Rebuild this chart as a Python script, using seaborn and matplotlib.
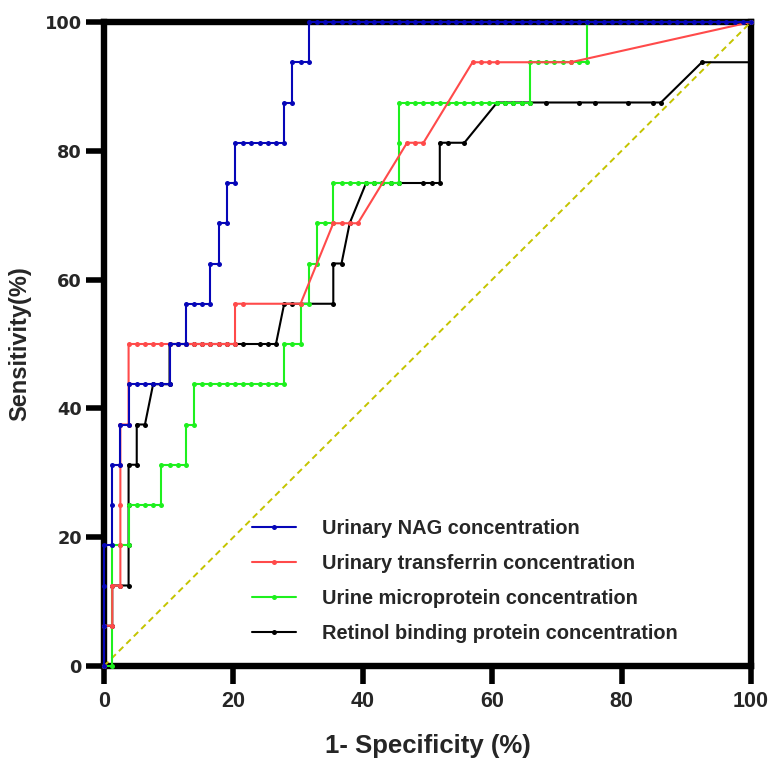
import matplotlib
matplotlib.use("Agg")
import matplotlib.pyplot as plt
import pandas as pd
import seaborn as sns

# false positive rate (%) and sensitivity (%)
nag_fpr = [0, 0, 0, 0, 1.27, 1.27, 1.27, 2.53, 2.53, 3.80, 3.80, 5.06, 6.33, 7.59, 8.86,
           10.13, 10.13, 11.39, 12.66, 12.66, 13.92, 15.19, 16.46, 16.46, 17.72, 17.72,
           18.99, 18.99, 20.25, 20.25, 21.52, 22.78, 24.05, 25.32, 26.58, 27.85, 27.85,
           29.11, 29.11, 30.38, 31.65, 31.65, 32.91, 34.18, 35.44, 36.71, 37.97, 39.24,
           40.51, 41.77, 43.04, 44.30, 45.57, 46.84, 48.10, 49.37, 50.63, 51.90, 53.16,
           54.43, 55.70, 56.96, 58.23, 59.49, 60.76, 62.03, 63.29, 64.56, 65.82, 67.09,
           68.35, 69.62, 70.89, 72.15, 73.42, 74.68, 75.95, 77.22, 78.48, 79.75, 81.01,
           82.28, 83.54, 84.81, 86.08, 87.34, 88.61, 89.87, 91.14, 92.41, 93.67, 94.94,
           96.20, 97.47, 98.73, 100]
nag_sens = [0, 6.25, 12.5, 18.75, 18.75, 25, 31.25, 31.25, 37.5, 37.5, 43.75, 43.75, 43.75,
            43.75, 43.75, 43.75, 50, 50, 50, 56.25, 56.25, 56.25, 56.25, 62.5, 62.5, 68.75,
            68.75, 75, 75, 81.25, 81.25, 81.25, 81.25, 81.25, 81.25, 81.25, 87.5, 87.5,
            93.75, 93.75, 93.75, 100, 100, 100, 100, 100, 100, 100, 100, 100, 100, 100,
            100, 100, 100, 100, 100, 100, 100, 100, 100, 100, 100, 100, 100, 100, 100, 100,
            100, 100, 100, 100, 100, 100, 100, 100, 100, 100, 100, 100, 100, 100, 100, 100,
            100, 100, 100, 100, 100, 100, 100, 100, 100, 100, 100, 100]

tf_fpr = [0, 0, 1.27, 1.27, 2.53, 2.53, 2.53, 2.53, 2.53, 3.80, 3.80, 3.80, 5.06, 6.33,
          7.59, 8.86, 10.13, 11.39, 12.66, 13.92, 15.19, 16.46, 17.72, 18.99, 20.25, 20.25,
          21.52, 30.38, 35.44, 36.71, 37.97, 39.24, 46.84, 48.10, 49.37, 56.96, 58.23,
          59.49, 60.76, 72.15, 100]
tf_sens = [0, 6.25, 6.25, 12.5, 12.5, 18.75, 25, 31.25, 37.5, 37.5, 43.75, 50, 50, 50, 50,
           50, 50, 50, 50, 50, 50, 50, 50, 50, 50, 56.25, 56.25, 56.25, 68.75, 68.75, 68.75,
           68.75, 81.25, 81.25, 81.25, 93.75, 93.75, 93.75, 93.75, 93.75, 100]

mp_fpr = [0, 1.27, 1.27, 2.53, 3.80, 3.80, 5.06, 6.33, 7.59, 8.86, 8.86, 10.13, 11.39,
          12.66, 12.66, 13.92, 13.92, 15.19, 16.46, 17.72, 18.99, 20.25, 21.52, 22.78,
          24.05, 25.32, 26.58, 27.85, 27.85, 29.11, 30.38, 30.38, 31.65, 31.65, 32.91,
          32.91, 34.18, 35.44, 35.44, 36.71, 37.97, 39.24, 40.51, 41.77, 43.04, 44.30,
          45.57, 45.57, 45.57, 46.84, 48.10, 49.37, 50.63, 51.90, 53.16, 54.43, 55.70,
          56.96, 58.23, 59.49, 60.76, 62.03, 63.29, 64.56, 65.82, 65.82, 67.09, 68.35,
          69.62, 70.89, 72.15, 73.42, 74.68, 74.68, 100]
mp_sens = [0, 0, 18.75, 18.75, 18.75, 25, 25, 25, 25, 25, 31.25, 31.25, 31.25, 31.25, 37.5,
           37.5, 43.75, 43.75, 43.75, 43.75, 43.75, 43.75, 43.75, 43.75, 43.75, 43.75,
           43.75, 43.75, 50, 50, 50, 56.25, 56.25, 62.5, 62.5, 68.75, 68.75, 68.75, 75, 75,
           75, 75, 75, 75, 75, 75, 75, 81.25, 87.5, 87.5, 87.5, 87.5, 87.5, 87.5, 87.5, 87.5,
           87.5, 87.5, 87.5, 87.5, 87.5, 87.5, 87.5, 87.5, 87.5, 93.75, 93.75, 93.75, 93.75,
           93.75, 93.75, 93.75, 93.75, 100, 100]

rbp_fpr = [0, 0, 1.27, 1.27, 2.53, 3.80, 3.80, 3.80, 3.80, 5.06, 5.06, 6.33, 7.59, 8.86,
           10.13, 10.13, 11.39, 12.66, 13.92, 15.19, 16.46, 17.72, 18.99, 20.25, 21.52,
           24.05, 25.32, 26.58, 27.85, 29.11, 35.44, 35.44, 36.71, 37.97, 40.51, 41.77,
           43.04, 44.30, 45.57, 49.37, 50.63, 51.90, 51.90, 53.16, 55.70, 60.76, 62.03,
           63.29, 64.56, 65.82, 68.35, 73.42, 75.95, 81.01, 84.81, 86.08, 92.41, 100, 100]
rbp_sens = [0, 6.25, 6.25, 12.5, 12.5, 12.5, 18.75, 25, 31.25, 31.25, 37.5, 37.5, 43.75,
            43.75, 43.75, 50, 50, 50, 50, 50, 50, 50, 50, 50, 50, 50, 50, 50, 56.25, 56.25,
            56.25, 62.5, 62.5, 68.75, 75, 75, 75, 75, 75, 75, 75, 75, 81.25, 81.25, 81.25,
            87.5, 87.5, 87.5, 87.5, 87.5, 87.5, 87.5, 87.5, 87.5, 87.5, 87.5, 93.75, 93.75,
            100]

ref_x = [0, 100]
ref_y = [0, 100]

series_names = [
    'Urinary NAG concentration',
    'Urinary transferrin concentration',
    'Urine microprotein concentration',
    'Retinol binding protein concentration',
]
series_colors = ['#0606b8', '#ff4a4a', '#1ef01e', '#000000']
tick_values = [0, 20, 40, 60, 80, 100]

sns.set_style('ticks')
plt.rcParams['font.family'] = ['Liberation Sans', 'DejaVu Sans']

fig = plt.figure(figsize=(7.69, 7.59), dpi=100)
ax = fig.add_axes([104 / 769, 1 - 666 / 759, 647 / 769, 644 / 759])

sns.lineplot(x=ref_x, y=ref_y, ax=ax, color='#c4c400', linewidth=1.4,
             dashes=False, linestyle=(0, (3.2, 2.2)), zorder=2.6)

curves = [
    (nag_fpr, nag_sens, 6),
    (tf_fpr, tf_sens, 5),
    (mp_fpr, mp_sens, 4),
    (rbp_fpr, rbp_sens, 3),
]
for (fx, sy, z), name, col in zip(curves, series_names, series_colors):
    df = pd.DataFrame({'fpr': fx, 'sens': sy})
    sns.lineplot(data=df, x='fpr', y='sens', ax=ax, sort=False, estimator=None,
                 color=col, linewidth=1.5, marker='o', markersize=3.6,
                 markeredgewidth=0, label=name, zorder=z, clip_on=False)

ax.set_xlim(0, 100)
ax.set_ylim(0, 100)
ax.set_xticks(tick_values)
ax.set_yticks(tick_values)
for s in ax.spines.values():
    s.set_linewidth(4.6)
    s.set_color('black')
ax.tick_params(axis='both', length=13, width=4, color='black')
ax.tick_params(axis='x', pad=5)
ax.tick_params(axis='y', pad=3)

for lab in ax.get_xticklabels():
    lab.set_fontweight('bold')
    lab.set_fontsize(15.5)
for lab in ax.get_yticklabels():
    lab.set_family(['DejaVu Sans'])
    lab.set_fontweight('bold')
    lab.set_fontsize(12.8)

ax.set_xlabel('1- Specificity (%)', fontweight='bold', fontsize=18.5)
ax.set_ylabel('Sensitivity(%)', fontweight='bold', fontsize=17)
ax.xaxis.set_label_coords(0.5, -0.105)
ax.yaxis.set_label_coords(-0.113, 0.5)

handles, labels = ax.get_legend_handles_labels()
ax.legend(handles, labels, loc='upper left', bbox_to_anchor=(0.229, 0.229),
          frameon=False, prop={'family': 'Liberation Sans', 'weight': 'bold', 'size': 14.4},
          handlelength=2.2, handletextpad=1.3, labelspacing=0.8, borderpad=0,
          borderaxespad=0, numpoints=1)

fig.savefig('out.png', dpi=100)
